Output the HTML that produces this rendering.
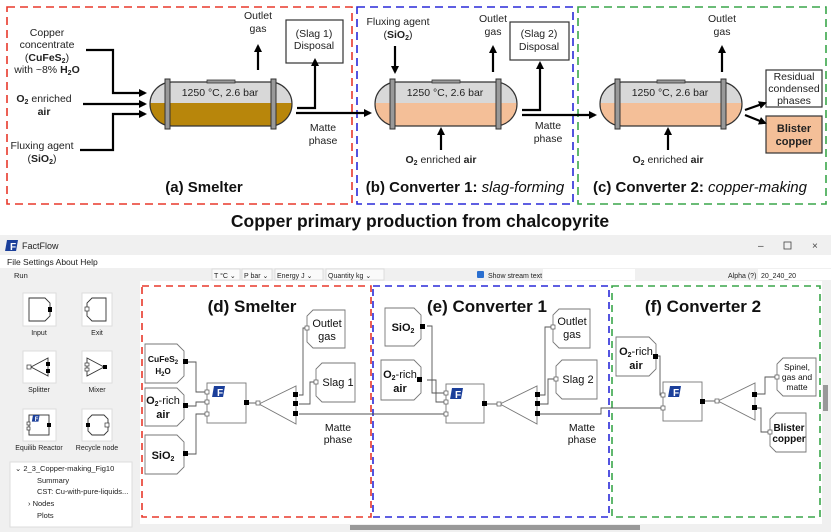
<!DOCTYPE html>
<html><head><meta charset="utf-8"><style>
html,body{margin:0;padding:0;background:#fff;}
svg{display:block;font-family:"Liberation Sans",Arial,sans-serif;}
</style></head><body>
<svg width="831" height="532" viewBox="0 0 831 532" xmlns="http://www.w3.org/2000/svg">
<defs>
<marker id="ah" markerWidth="8" markerHeight="8" refX="6" refY="4" orient="auto" markerUnits="userSpaceOnUse"><path d="M0,0 L8,4 L0,8 z" fill="#000"/></marker>
<clipPath id="v1"><rect x="0" y="0" width="142" height="44" rx="22"/></clipPath>
<g id="flog"><rect x="0" y="0" width="11" height="11" fill="#1b3f9a" transform="skewX(-10)"/><text x="6" y="10" font-size="10" fill="#fff" font-weight="bold" text-anchor="middle">F</text></g>
</defs>
<rect width="831" height="532" fill="#fff"/>
<rect x="7" y="7" width="345" height="197" fill="none" stroke="#e8392b" stroke-width="1.6" stroke-dasharray="8,5"/>
<rect x="357" y="7" width="216" height="197" fill="none" stroke="#2a2ad8" stroke-width="1.6" stroke-dasharray="8,5"/>
<rect x="578" y="7" width="248" height="197" fill="none" stroke="#3aa64a" stroke-width="1.6" stroke-dasharray="8,5"/>
<rect x="286" y="20" width="57" height="43" fill="none" stroke="#333" stroke-width="1.2"/>
<rect x="510" y="22" width="59" height="38" fill="none" stroke="#333" stroke-width="1.2"/>
<rect x="766" y="70" width="56" height="37" fill="none" stroke="#333" stroke-width="1.2"/>
<rect x="766" y="116" width="56" height="37" fill="#f4bf98" stroke="#333" stroke-width="1.2"/>
<g font-size="10.5" fill="#222" text-anchor="middle">
<text x="47" y="36">Copper</text><text x="47" y="48">concentrate</text>
<text x="47" y="61">(<tspan font-weight="bold">CuFeS<tspan font-size="7" dy="2">2</tspan></tspan><tspan dy="-2">)</tspan></text>
<text x="47" y="73">with ~8% <tspan font-weight="bold">H<tspan font-size="7" dy="2">2</tspan><tspan dy="-2">O</tspan></tspan></text>
<text x="44" y="102"><tspan font-weight="bold">O<tspan font-size="7" dy="2">2</tspan></tspan><tspan dy="-2"> enriched</tspan></text>
<text x="44" y="115" font-weight="bold">air</text>
<text x="42" y="149">Fluxing agent</text>
<text x="42" y="162">(<tspan font-weight="bold">SiO<tspan font-size="7" dy="2">2</tspan></tspan><tspan dy="-2">)</tspan></text>
<text x="258" y="19">Outlet</text><text x="258" y="32">gas</text>
<text x="314" y="37">(Slag 1)</text><text x="314" y="49">Disposal</text>
<text x="323" y="131">Matte</text><text x="323" y="144">phase</text>
<text x="398" y="25">Fluxing agent</text>
<text x="398" y="38">(<tspan font-weight="bold">SiO<tspan font-size="7" dy="2">2</tspan></tspan><tspan dy="-2">)</tspan></text>
<text x="493" y="22">Outlet</text><text x="493" y="35">gas</text>
<text x="539" y="37">(Slag 2)</text><text x="539" y="50">Disposal</text>
<text x="548" y="129">Matte</text><text x="548" y="142">phase</text>
<text x="441" y="163"><tspan font-weight="bold">O<tspan font-size="7" dy="2">2</tspan></tspan><tspan dy="-2"> enriched </tspan><tspan font-weight="bold">air</tspan></text>
<text x="722" y="22">Outlet</text><text x="722" y="35">gas</text>
<text x="668" y="163"><tspan font-weight="bold">O<tspan font-size="7" dy="2">2</tspan></tspan><tspan dy="-2"> enriched </tspan><tspan font-weight="bold">air</tspan></text>
<text x="794" y="80">Residual</text><text x="794" y="92">condensed</text><text x="794" y="104">phases</text>
<text x="794" y="132" font-weight="bold" font-size="11">Blister</text><text x="794" y="145" font-weight="bold" font-size="11">copper</text>
</g>
<g font-size="15" fill="#111" text-anchor="middle">
<text x="204" y="192"><tspan font-weight="bold">(a) Smelter</tspan></text>
<text x="465" y="192"><tspan font-weight="bold">(b) Converter 1: </tspan><tspan font-style="italic">slag-forming</tspan></text>
<text x="700" y="192"><tspan font-weight="bold">(c) Converter 2: </tspan><tspan font-style="italic">copper-making</tspan></text>
</g>
<text x="420" y="227" font-size="17.5" font-weight="bold" text-anchor="middle" fill="#111">Copper primary production from chalcopyrite</text>
<g transform="translate(150,82)">
<rect x="0" y="0" width="142" height="44" rx="22" fill="#d8d8d8"/>
<rect x="0" y="21" width="142" height="23" fill="#b8860b" clip-path="url(#v1)"/>
<rect x="0" y="0" width="142" height="44" rx="22" fill="none" stroke="#333" stroke-width="1.2"/>
<rect x="15" y="-3" width="5" height="50" fill="#999" stroke="#333"/><rect x="121" y="-3" width="5" height="50" fill="#999" stroke="#333"/>
<rect x="57" y="-2" width="28" height="3" fill="#999" stroke="#333" stroke-width="0.8"/>
<text x="70" y="14" font-size="10.5" text-anchor="middle" fill="#222">1250 °C, 2.6 bar</text>
</g>
<g transform="translate(375,82)">
<rect x="0" y="0" width="142" height="44" rx="22" fill="#d8d8d8"/>
<rect x="0" y="21" width="142" height="23" fill="#f4bf98" clip-path="url(#v1)"/>
<rect x="0" y="0" width="142" height="44" rx="22" fill="none" stroke="#333" stroke-width="1.2"/>
<rect x="15" y="-3" width="5" height="50" fill="#999" stroke="#333"/><rect x="121" y="-3" width="5" height="50" fill="#999" stroke="#333"/>
<rect x="57" y="-2" width="28" height="3" fill="#999" stroke="#333" stroke-width="0.8"/>
<text x="70" y="14" font-size="10.5" text-anchor="middle" fill="#222">1250 °C, 2.6 bar</text>
</g>
<g transform="translate(600,82)">
<rect x="0" y="0" width="142" height="44" rx="22" fill="#d8d8d8"/>
<rect x="0" y="21" width="142" height="23" fill="#f4bf98" clip-path="url(#v1)"/>
<rect x="0" y="0" width="142" height="44" rx="22" fill="none" stroke="#333" stroke-width="1.2"/>
<rect x="15" y="-3" width="5" height="50" fill="#999" stroke="#333"/><rect x="121" y="-3" width="5" height="50" fill="#999" stroke="#333"/>
<rect x="57" y="-2" width="28" height="3" fill="#999" stroke="#333" stroke-width="0.8"/>
<text x="70" y="14" font-size="10.5" text-anchor="middle" fill="#222">1250 °C, 2.6 bar</text>
</g>
<g stroke="#000" stroke-width="2.2" fill="none" marker-end="url(#ah)">
<path d="M86,50 H113 V93 H145"/>
<path d="M83,104 H145"/>
<path d="M80,150 H113 V114 H145"/>
<path d="M258,70 V46"/>
<path d="M297,108 H315 V60"/>
<path d="M296,113 H370"/>
<path d="M395,46 V72"/>
<path d="M493,72 V47"/>
<path d="M522,110 H540 V63"/>
<path d="M522,115 H595"/>
<path d="M441,150 V129"/>
<path d="M722,72 V47"/>
<path d="M668,150 V129"/>
<path d="M745,110 L765,103"/>
<path d="M745,115 L765,123"/>
</g>
<rect x="0" y="235" width="831" height="20" fill="#f0f0f0"/>
<g transform="translate(7,240)"><use href="#flog"/></g>
<text x="22" y="249" font-size="9" fill="#222">FactFlow</text>
<text x="758" y="249" font-size="10" fill="#444">–</text>
<rect x="784" y="242" width="7" height="7" fill="none" stroke="#444" stroke-width="0.8"/>
<text x="812" y="249" font-size="10" fill="#444">×</text>
<rect x="0" y="255" width="831" height="13" fill="#fff"/>
<text x="7" y="265" font-size="8.5" fill="#222">File  Settings  About  Help</text>
<rect x="0" y="268" width="831" height="13" fill="#f0f0f0"/>
<text x="14" y="278" font-size="7.5" fill="#222">Run</text>
<g font-size="7" fill="#222">
<rect x="212" y="269" width="28" height="11" fill="#fafafa" stroke="#ddd"/><text x="214" y="278">T °C   ⌄</text>
<rect x="242" y="269" width="30" height="11" fill="#fafafa" stroke="#ddd"/><text x="244" y="278">P bar  ⌄</text>
<rect x="275" y="269" width="48" height="11" fill="#fafafa" stroke="#ddd"/><text x="277" y="278">Energy J      ⌄</text>
<rect x="326" y="269" width="58" height="11" fill="#fafafa" stroke="#ddd"/><text x="328" y="278">Quantity kg        ⌄</text>
<rect x="477" y="271" width="7" height="7" fill="#2a6fd0" rx="1"/>
<text x="488" y="278">Show stream text</text>
<rect x="543" y="269" width="92" height="11" fill="#fff"/>
<text x="728" y="278">Alpha (?)</text>
<rect x="758" y="269" width="73" height="11" fill="#fff"/>
<text x="761" y="278">20_240_20</text>
</g>
<rect x="0" y="281" width="140" height="251" fill="#f0f0f0"/>
<g fill="#fff" stroke="#ddd">
<rect x="23" y="293" width="33" height="33"/><rect x="82" y="293" width="30" height="33"/>
<rect x="23" y="351" width="33" height="32"/><rect x="82" y="351" width="30" height="32"/>
<rect x="23" y="409" width="33" height="32"/><rect x="82" y="409" width="30" height="32"/>
</g>
<g fill="none" stroke="#333" stroke-width="0.9">
<path d="M29,298 H45 L50,303 V316 L45,321 H29 Z"/>
<path d="M92,298 H106 V321 H92 L87,316 V303 Z"/>
<path d="M31,367 L48,358 V376 Z"/>
<path d="M87,358 L104,367 L87,376 Z"/>
<rect x="29" y="415" width="20" height="20"/>
<path d="M92,415 H104 L108,419 V431 L104,435 H92 L88,431 V419 Z"/>
</g>
<g fill="#000">
<rect x="48" y="307" width="4" height="5"/><rect x="46" y="362" width="4" height="4"/><rect x="46" y="369" width="4" height="4"/>
<rect x="103" y="365" width="4" height="4"/><rect x="47" y="423" width="4" height="4"/><rect x="86" y="423" width="4" height="4"/>
</g>
<g fill="#fff" stroke="#333" stroke-width="0.7">
<rect x="85" y="307" width="4" height="4"/><rect x="27" y="365" width="4" height="4"/><rect x="85" y="363" width="4" height="3"/><rect x="85" y="368" width="4" height="3"/>
<rect x="27" y="422" width="3" height="3"/><rect x="27" y="427" width="3" height="3"/><rect x="105" y="423" width="4" height="4"/>
</g>
<g transform="translate(33,415) scale(0.6)"><use href="#flog"/></g>
<g font-size="7" fill="#222" text-anchor="middle">
<text x="39" y="335">Input</text><text x="97" y="335">Exit</text>
<text x="39" y="392">Splitter</text><text x="97" y="392">Mixer</text>
<text x="39" y="450">Equilib Reactor</text><text x="97" y="450">Recycle node</text>
</g>
<rect x="10" y="462" width="122" height="65" fill="#fff" stroke="#ddd"/>
<g font-size="7.5" fill="#222">
<text x="15" y="471">⌄  2_3_Copper-making_Fig10</text>
<text x="37" y="483">Summary</text>
<text x="37" y="494">CST: Cu-with-pure-liquids...</text>
<text x="28" y="506">›  Nodes</text>
<text x="37" y="518">Plots</text>
</g>
<rect x="140" y="281" width="682" height="243" fill="#fff"/>
<rect x="822" y="281" width="9" height="251" fill="#f0f0f0"/>
<rect x="823" y="385" width="5" height="26" fill="#999"/>
<rect x="140" y="524" width="682" height="8" fill="#f0f0f0"/>
<rect x="350" y="525" width="290" height="5" fill="#999"/>
<rect x="142" y="286" width="229" height="231" fill="none" stroke="#e8392b" stroke-width="1.6" stroke-dasharray="7,5"/>
<rect x="373" y="286" width="236" height="231" fill="none" stroke="#2a2ad8" stroke-width="1.6" stroke-dasharray="7,5"/>
<rect x="612" y="286" width="208" height="231" fill="none" stroke="#3aa64a" stroke-width="1.6" stroke-dasharray="7,5"/>
<g font-size="17" font-weight="bold" fill="#111" text-anchor="middle">
<text x="252" y="312">(d) Smelter</text>
<text x="487" y="312">(e) Converter 1</text>
<text x="703" y="312">(f) Converter 2</text>
</g>
<g fill="none" stroke="#555" stroke-width="0.9">
<path d="M187,362 H196 V392 H207"/>
<path d="M187,406 H196 V402 H207"/>
<path d="M187,454 H196 V414 H207"/>
<path d="M249,403 H259"/>
<path d="M299,395 H303 V328 H307"/>
<path d="M299,404 H310 V382 H316"/>
<path d="M299,414 H446"/>
<path d="M427,326 H432 V393 H446"/>
<path d="M427,380 H436 V402 H446"/>
<path d="M487,404 H498"/>
<path d="M539,395 H545 V327 H553"/>
<path d="M539,404 H548 V379 H556"/>
<path d="M539,414 H601 V408 H663"/>
<path d="M657,356 H660 V395 H663"/>
<path d="M704,401 H716"/>
<path d="M755,394 H765 V377 H777"/>
<path d="M755,408 H761 V432 H770"/>
</g>
<g fill="#fff" stroke="#777" stroke-width="0.9">
<path d="M145,344 H177 L184,351 V376 L177,383 H145 Z"/>
<path d="M145,388 H177 L184,395 V419 L177,426 H145 Z"/>
<path d="M145,435 H177 L184,442 V467 L177,474 H145 Z"/>
<path d="M313,310 H345 V348 H313 L307,342 V316 Z"/>
<path d="M322,363 H355 V402 H322 L316,396 V369 Z"/>
<rect x="207" y="383" width="39" height="40"/>
<path d="M259,404 L296,386 V424 Z"/>
<path d="M385,308 H414 L421,315 V339 L414,346 H385 Z"/>
<path d="M381,360 H414 L421,367 V393 L414,400 H381 Z"/>
<path d="M559,309 H590 V348 H559 L553,342 V315 Z"/>
<path d="M562,360 H597 V399 H562 L556,393 V366 Z"/>
<rect x="446" y="384" width="38" height="39"/>
<path d="M500,404 L537,386 V424 Z"/>
<path d="M616,337 H649 L656,344 V369 L649,376 H616 Z"/>
<rect x="663" y="382" width="39" height="39"/>
<path d="M718,401 L755,383 V420 Z"/>
<path d="M783,358 H816 V396 H783 L777,390 V364 Z"/>
<path d="M776,413 H806 V452 H776 L770,446 V419 Z"/>
</g>
<use href="#flog" transform="translate(214,386)"/>
<use href="#flog" transform="translate(452,388)"/>
<use href="#flog" transform="translate(670,386)"/>
<g fill="#000">
<rect x="183" y="359" width="5" height="5"/><rect x="183" y="403" width="5" height="5"/><rect x="183" y="451" width="5" height="5"/>
<rect x="244" y="400" width="5" height="5"/>
<rect x="293" y="392" width="5" height="5"/><rect x="293" y="401" width="5" height="5"/><rect x="293" y="411" width="5" height="5"/>
<rect x="420" y="324" width="5" height="5"/><rect x="417" y="377" width="5" height="5"/>
<rect x="482" y="401" width="5" height="5"/>
<rect x="535" y="392" width="5" height="5"/><rect x="535" y="401" width="5" height="5"/><rect x="535" y="411" width="5" height="5"/>
<rect x="653" y="354" width="5" height="5"/>
<rect x="700" y="399" width="5" height="5"/>
<rect x="752" y="392" width="5" height="5"/><rect x="752" y="405" width="5" height="5"/>
</g>
<g fill="#fff" stroke="#555" stroke-width="0.7">
<rect x="205" y="390" width="4" height="4"/><rect x="205" y="400" width="4" height="4"/><rect x="205" y="412" width="4" height="4"/>
<rect x="256" y="401" width="4" height="4"/>
<rect x="305" y="326" width="4" height="4"/><rect x="314" y="380" width="4" height="4"/>
<rect x="444" y="391" width="4" height="4"/><rect x="444" y="400" width="4" height="4"/><rect x="444" y="412" width="4" height="4"/>
<rect x="497" y="402" width="4" height="4"/>
<rect x="551" y="325" width="4" height="4"/><rect x="554" y="377" width="4" height="4"/>
<rect x="661" y="393" width="4" height="4"/><rect x="661" y="406" width="4" height="4"/>
<rect x="715" y="399" width="4" height="4"/>
<rect x="775" y="375" width="4" height="4"/><rect x="768" y="430" width="4" height="4"/>
</g>
<g fill="#111" text-anchor="middle">
<text x="163" y="362" font-size="8.5" font-weight="bold">CuFeS<tspan font-size="6" dy="2">2</tspan></text>
<text x="163" y="374" font-size="8" font-weight="bold">H<tspan font-size="6" dy="2">2</tspan><tspan dy="-2">O</tspan></text>
<text x="163" y="404" font-size="11"><tspan font-weight="bold">O<tspan font-size="7" dy="2">2</tspan></tspan><tspan dy="-2">-rich</tspan></text>
<text x="163" y="418" font-size="11" font-weight="bold">air</text>
<text x="163" y="459" font-size="11" font-weight="bold">SiO<tspan font-size="7" dy="2">2</tspan></text>
<text x="327" y="327" font-size="11">Outlet</text><text x="327" y="340" font-size="11">gas</text>
<text x="338" y="386" font-size="11">Slag 1</text>
<text x="338" y="431" font-size="10.5">Matte</text><text x="338" y="443" font-size="10.5">phase</text>
<text x="403" y="331" font-size="11" font-weight="bold">SiO<tspan font-size="7" dy="2">2</tspan></text>
<text x="400" y="378" font-size="11"><tspan font-weight="bold">O<tspan font-size="7" dy="2">2</tspan></tspan><tspan dy="-2">-rich</tspan></text>
<text x="400" y="392" font-size="11" font-weight="bold">air</text>
<text x="572" y="325" font-size="11">Outlet</text><text x="572" y="338" font-size="11">gas</text>
<text x="578" y="383" font-size="11">Slag 2</text>
<text x="582" y="431" font-size="10.5">Matte</text><text x="582" y="443" font-size="10.5">phase</text>
<text x="636" y="355" font-size="11"><tspan font-weight="bold">O<tspan font-size="7" dy="2">2</tspan></tspan><tspan dy="-2">-rich</tspan></text>
<text x="636" y="369" font-size="11" font-weight="bold">air</text>
<text x="797" y="370" font-size="8.5">Spinel,</text><text x="797" y="380" font-size="8.5">gas and</text><text x="797" y="390" font-size="8.5">matte</text>
<text x="789" y="431" font-size="10" font-weight="bold">Blister</text><text x="789" y="442" font-size="10" font-weight="bold">copper</text>
</g>
</svg>
</body></html>
